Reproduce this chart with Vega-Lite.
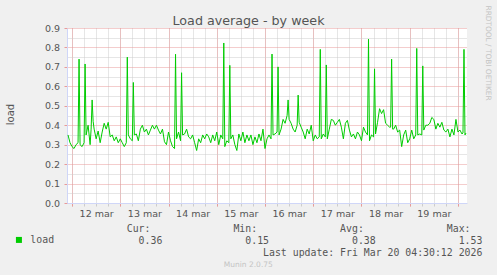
{
  "$schema": "https://vega.github.io/schema/vega-lite/v6.json",
  "width": 400,
  "height": 175,
  "autosize": "none",
  "padding": {"left": 67, "top": 28, "right": 30, "bottom": 72},
  "background": "#f0f0f0",
  "config": {"view": {"fill": "#ffffff", "stroke": null}, "font": "DejaVu Sans"},
  "data": {"values": [
    {"t": "2026-03-11T22:00", "v": 0.35}, {"t": "2026-03-11T23:00", "v": 0.31},
    {"t": "2026-03-12T00:00", "v": 0.29}, {"t": "2026-03-12T01:00", "v": 0.28}, {"t": "2026-03-12T02:00", "v": 0.30}, {"t": "2026-03-12T03:00", "v": 0.31}, {"t": "2026-03-12T03:30", "v": 0.74}, {"t": "2026-03-12T04:00", "v": 0.30}, {"t": "2026-03-12T05:00", "v": 0.29}, {"t": "2026-03-12T06:00", "v": 0.31}, {"t": "2026-03-12T06:30", "v": 0.715}, {"t": "2026-03-12T07:00", "v": 0.35}, {"t": "2026-03-12T08:00", "v": 0.40}, {"t": "2026-03-12T09:00", "v": 0.30}, {"t": "2026-03-12T09:30", "v": 0.38}, {"t": "2026-03-12T10:00", "v": 0.53}, {"t": "2026-03-12T10:30", "v": 0.42}, {"t": "2026-03-12T11:00", "v": 0.38}, {"t": "2026-03-12T12:00", "v": 0.33}, {"t": "2026-03-12T13:00", "v": 0.37}, {"t": "2026-03-12T14:00", "v": 0.31}, {"t": "2026-03-12T15:00", "v": 0.365}, {"t": "2026-03-12T16:00", "v": 0.41}, {"t": "2026-03-12T17:00", "v": 0.38}, {"t": "2026-03-12T18:00", "v": 0.415}, {"t": "2026-03-12T19:00", "v": 0.34}, {"t": "2026-03-12T20:00", "v": 0.35}, {"t": "2026-03-12T21:00", "v": 0.32}, {"t": "2026-03-12T22:00", "v": 0.34}, {"t": "2026-03-12T23:00", "v": 0.31},
    {"t": "2026-03-13T00:00", "v": 0.33}, {"t": "2026-03-13T01:00", "v": 0.31}, {"t": "2026-03-13T02:00", "v": 0.29}, {"t": "2026-03-13T03:00", "v": 0.31}, {"t": "2026-03-13T03:30", "v": 0.75}, {"t": "2026-03-13T04:00", "v": 0.35}, {"t": "2026-03-13T05:00", "v": 0.33}, {"t": "2026-03-13T06:00", "v": 0.32}, {"t": "2026-03-13T06:30", "v": 0.62}, {"t": "2026-03-13T07:00", "v": 0.35}, {"t": "2026-03-13T08:00", "v": 0.355}, {"t": "2026-03-13T09:00", "v": 0.32}, {"t": "2026-03-13T10:00", "v": 0.38}, {"t": "2026-03-13T11:00", "v": 0.40}, {"t": "2026-03-13T12:00", "v": 0.365}, {"t": "2026-03-13T13:00", "v": 0.38}, {"t": "2026-03-13T14:00", "v": 0.35}, {"t": "2026-03-13T15:00", "v": 0.375}, {"t": "2026-03-13T16:00", "v": 0.40}, {"t": "2026-03-13T17:00", "v": 0.38}, {"t": "2026-03-13T18:00", "v": 0.40}, {"t": "2026-03-13T19:00", "v": 0.375}, {"t": "2026-03-13T20:00", "v": 0.355}, {"t": "2026-03-13T21:00", "v": 0.38}, {"t": "2026-03-13T22:00", "v": 0.315}, {"t": "2026-03-13T23:00", "v": 0.30},
    {"t": "2026-03-14T00:00", "v": 0.365}, {"t": "2026-03-14T01:00", "v": 0.32}, {"t": "2026-03-14T02:00", "v": 0.29}, {"t": "2026-03-14T03:00", "v": 0.28}, {"t": "2026-03-14T03:30", "v": 0.765}, {"t": "2026-03-14T04:00", "v": 0.33}, {"t": "2026-03-14T05:00", "v": 0.365}, {"t": "2026-03-14T06:00", "v": 0.32}, {"t": "2026-03-14T06:30", "v": 0.67}, {"t": "2026-03-14T07:00", "v": 0.35}, {"t": "2026-03-14T08:00", "v": 0.355}, {"t": "2026-03-14T09:00", "v": 0.38}, {"t": "2026-03-14T10:00", "v": 0.34}, {"t": "2026-03-14T11:00", "v": 0.33}, {"t": "2026-03-14T12:00", "v": 0.35}, {"t": "2026-03-14T13:00", "v": 0.31}, {"t": "2026-03-14T14:00", "v": 0.27}, {"t": "2026-03-14T15:00", "v": 0.33}, {"t": "2026-03-14T16:00", "v": 0.31}, {"t": "2026-03-14T17:00", "v": 0.35}, {"t": "2026-03-14T18:00", "v": 0.33}, {"t": "2026-03-14T19:00", "v": 0.355}, {"t": "2026-03-14T20:00", "v": 0.34}, {"t": "2026-03-14T21:00", "v": 0.31}, {"t": "2026-03-14T22:00", "v": 0.35}, {"t": "2026-03-14T23:00", "v": 0.32},
    {"t": "2026-03-15T00:00", "v": 0.365}, {"t": "2026-03-15T01:00", "v": 0.30}, {"t": "2026-03-15T02:00", "v": 0.35}, {"t": "2026-03-15T03:00", "v": 0.33}, {"t": "2026-03-15T03:30", "v": 0.823}, {"t": "2026-03-15T04:00", "v": 0.29}, {"t": "2026-03-15T05:00", "v": 0.32}, {"t": "2026-03-15T06:00", "v": 0.31}, {"t": "2026-03-15T06:30", "v": 0.708}, {"t": "2026-03-15T07:00", "v": 0.33}, {"t": "2026-03-15T08:00", "v": 0.35}, {"t": "2026-03-15T09:00", "v": 0.30}, {"t": "2026-03-15T10:00", "v": 0.27}, {"t": "2026-03-15T11:00", "v": 0.355}, {"t": "2026-03-15T12:00", "v": 0.32}, {"t": "2026-03-15T13:00", "v": 0.365}, {"t": "2026-03-15T14:00", "v": 0.31}, {"t": "2026-03-15T15:00", "v": 0.35}, {"t": "2026-03-15T16:00", "v": 0.32}, {"t": "2026-03-15T17:00", "v": 0.35}, {"t": "2026-03-15T18:00", "v": 0.30}, {"t": "2026-03-15T19:00", "v": 0.34}, {"t": "2026-03-15T20:00", "v": 0.31}, {"t": "2026-03-15T21:00", "v": 0.355}, {"t": "2026-03-15T22:00", "v": 0.32}, {"t": "2026-03-15T23:00", "v": 0.38},
    {"t": "2026-03-16T00:00", "v": 0.28}, {"t": "2026-03-16T01:00", "v": 0.33}, {"t": "2026-03-16T02:00", "v": 0.35}, {"t": "2026-03-16T03:00", "v": 0.33}, {"t": "2026-03-16T03:30", "v": 0.766}, {"t": "2026-03-16T04:00", "v": 0.35}, {"t": "2026-03-16T05:00", "v": 0.355}, {"t": "2026-03-16T06:00", "v": 0.365}, {"t": "2026-03-16T06:30", "v": 0.70}, {"t": "2026-03-16T07:00", "v": 0.35}, {"t": "2026-03-16T08:00", "v": 0.38}, {"t": "2026-03-16T09:00", "v": 0.43}, {"t": "2026-03-16T10:00", "v": 0.41}, {"t": "2026-03-16T11:00", "v": 0.45}, {"t": "2026-03-16T11:30", "v": 0.53}, {"t": "2026-03-16T12:00", "v": 0.43}, {"t": "2026-03-16T13:00", "v": 0.41}, {"t": "2026-03-16T14:00", "v": 0.38}, {"t": "2026-03-16T15:00", "v": 0.365}, {"t": "2026-03-16T16:00", "v": 0.40}, {"t": "2026-03-16T16:30", "v": 0.555}, {"t": "2026-03-16T17:00", "v": 0.415}, {"t": "2026-03-16T18:00", "v": 0.39}, {"t": "2026-03-16T19:00", "v": 0.365}, {"t": "2026-03-16T20:00", "v": 0.33}, {"t": "2026-03-16T21:00", "v": 0.38}, {"t": "2026-03-16T22:00", "v": 0.355}, {"t": "2026-03-16T23:00", "v": 0.40},
    {"t": "2026-03-17T00:00", "v": 0.32}, {"t": "2026-03-17T01:00", "v": 0.35}, {"t": "2026-03-17T02:00", "v": 0.33}, {"t": "2026-03-17T03:00", "v": 0.34}, {"t": "2026-03-17T03:30", "v": 0.79}, {"t": "2026-03-17T04:00", "v": 0.33}, {"t": "2026-03-17T05:00", "v": 0.355}, {"t": "2026-03-17T06:00", "v": 0.34}, {"t": "2026-03-17T06:30", "v": 0.71}, {"t": "2026-03-17T07:00", "v": 0.33}, {"t": "2026-03-17T08:00", "v": 0.38}, {"t": "2026-03-17T09:00", "v": 0.43}, {"t": "2026-03-17T10:00", "v": 0.425}, {"t": "2026-03-17T11:00", "v": 0.40}, {"t": "2026-03-17T12:00", "v": 0.415}, {"t": "2026-03-17T13:00", "v": 0.43}, {"t": "2026-03-17T14:00", "v": 0.39}, {"t": "2026-03-17T15:00", "v": 0.33}, {"t": "2026-03-17T16:00", "v": 0.41}, {"t": "2026-03-17T17:00", "v": 0.425}, {"t": "2026-03-17T18:00", "v": 0.375}, {"t": "2026-03-17T19:00", "v": 0.34}, {"t": "2026-03-17T20:00", "v": 0.355}, {"t": "2026-03-17T21:00", "v": 0.33}, {"t": "2026-03-17T22:00", "v": 0.365}, {"t": "2026-03-17T23:00", "v": 0.35},
    {"t": "2026-03-18T00:00", "v": 0.32}, {"t": "2026-03-18T01:00", "v": 0.39}, {"t": "2026-03-18T02:00", "v": 0.365}, {"t": "2026-03-18T03:00", "v": 0.35}, {"t": "2026-03-18T03:30", "v": 0.843}, {"t": "2026-03-18T04:00", "v": 0.32}, {"t": "2026-03-18T05:00", "v": 0.35}, {"t": "2026-03-18T06:00", "v": 0.34}, {"t": "2026-03-18T06:30", "v": 0.69}, {"t": "2026-03-18T07:00", "v": 0.355}, {"t": "2026-03-18T08:00", "v": 0.415}, {"t": "2026-03-18T09:00", "v": 0.485}, {"t": "2026-03-18T10:00", "v": 0.46}, {"t": "2026-03-18T11:00", "v": 0.48}, {"t": "2026-03-18T12:00", "v": 0.41}, {"t": "2026-03-18T13:00", "v": 0.40}, {"t": "2026-03-18T14:00", "v": 0.39}, {"t": "2026-03-18T14:30", "v": 0.39}, {"t": "2026-03-18T15:00", "v": 0.74}, {"t": "2026-03-18T15:30", "v": 0.38}, {"t": "2026-03-18T16:00", "v": 0.38}, {"t": "2026-03-18T17:00", "v": 0.40}, {"t": "2026-03-18T18:00", "v": 0.365}, {"t": "2026-03-18T19:00", "v": 0.375}, {"t": "2026-03-18T20:00", "v": 0.29}, {"t": "2026-03-18T21:00", "v": 0.35}, {"t": "2026-03-18T22:00", "v": 0.375}, {"t": "2026-03-18T23:00", "v": 0.31},
    {"t": "2026-03-19T00:00", "v": 0.33}, {"t": "2026-03-19T01:00", "v": 0.375}, {"t": "2026-03-19T02:00", "v": 0.33}, {"t": "2026-03-19T03:00", "v": 0.35}, {"t": "2026-03-19T03:30", "v": 0.795}, {"t": "2026-03-19T04:00", "v": 0.35}, {"t": "2026-03-19T05:00", "v": 0.355}, {"t": "2026-03-19T06:00", "v": 0.35}, {"t": "2026-03-19T06:30", "v": 0.705}, {"t": "2026-03-19T07:00", "v": 0.375}, {"t": "2026-03-19T08:00", "v": 0.40}, {"t": "2026-03-19T09:00", "v": 0.40}, {"t": "2026-03-19T10:00", "v": 0.41}, {"t": "2026-03-19T11:00", "v": 0.44}, {"t": "2026-03-19T12:00", "v": 0.43}, {"t": "2026-03-19T13:00", "v": 0.38}, {"t": "2026-03-19T14:00", "v": 0.41}, {"t": "2026-03-19T15:00", "v": 0.39}, {"t": "2026-03-19T16:00", "v": 0.415}, {"t": "2026-03-19T17:00", "v": 0.375}, {"t": "2026-03-19T18:00", "v": 0.365}, {"t": "2026-03-19T19:00", "v": 0.38}, {"t": "2026-03-19T20:00", "v": 0.34}, {"t": "2026-03-19T21:00", "v": 0.38}, {"t": "2026-03-19T22:00", "v": 0.35}, {"t": "2026-03-19T23:00", "v": 0.43},
    {"t": "2026-03-20T00:00", "v": 0.365}, {"t": "2026-03-20T01:00", "v": 0.375}, {"t": "2026-03-20T02:00", "v": 0.355}, {"t": "2026-03-20T02:30", "v": 0.36}, {"t": "2026-03-20T03:00", "v": 0.79}, {"t": "2026-03-20T03:30", "v": 0.35}, {"t": "2026-03-20T04:00", "v": 0.36}
  ]},
  "layer": [
    {
      "mark": {"type": "line", "opacity": 0},
      "encoding": {
        "x": {
          "field": "t", "type": "temporal",
          "scale": {"domain": [{"year": 2026, "month": 3, "date": 11, "hours": 21, "minutes": 30}, {"year": 2026, "month": 3, "date": 20, "hours": 4, "minutes": 30}], "nice": false},
          "axis": {"orient": "bottom", "tickCount": 34, "grid": true, "gridColor": "#cccccc", "gridDash": [1, 1], "gridOpacity": 1,
            "ticks": true, "tickSize": 3, "tickColor": "#cccccc", "labels": false, "domain": false,
            "title": "Munin 2.0.75", "titleFont": "DejaVu Sans", "titleFontSize": 7.5, "titleFontWeight": "normal", "titleColor": "#c4c4c4",
            "titleX": 180.8, "titleY": 63.5, "titleAlign": "center", "titleBaseline": "alphabetic"}
        },
        "y": {
          "field": "v", "type": "quantitative",
          "scale": {"domain": [0, 0.9], "nice": false},
          "axis": {"orient": "left", "values": [0.05, 0.15, 0.25, 0.35, 0.45, 0.55, 0.65, 0.75, 0.85], "grid": true, "gridColor": "#cccccc", "gridDash": [1, 1], "gridOpacity": 1,
            "ticks": false, "labels": false, "domain": false, "title": null}
        }
      }
    },
    {
      "mark": {"type": "line", "opacity": 0},
      "encoding": {
        "x": {
          "field": "t", "type": "temporal",
          "scale": {"domain": [{"year": 2026, "month": 3, "date": 11, "hours": 21, "minutes": 30}, {"year": 2026, "month": 3, "date": 20, "hours": 4, "minutes": 30}], "nice": false},
          "axis": {"orient": "bottom",
            "values": [{"year": 2026, "month": 3, "date": 12}, {"year": 2026, "month": 3, "date": 13}, {"year": 2026, "month": 3, "date": 14}, {"year": 2026, "month": 3, "date": 15}, {"year": 2026, "month": 3, "date": 16}, {"year": 2026, "month": 3, "date": 17}, {"year": 2026, "month": 3, "date": 18}, {"year": 2026, "month": 3, "date": 19}, {"year": 2026, "month": 3, "date": 20}],
            "grid": true, "gridColor": "#e89a9a", "gridDash": [1, 1], "gridOpacity": 1,
            "ticks": true, "tickSize": 3, "tickColor": "#e89a9a", "labels": false, "domain": false, "title": null}
        },
        "y": {
          "field": "v", "type": "quantitative",
          "scale": {"domain": [0, 0.9], "nice": false},
          "axis": {"orient": "left", "values": [0, 0.1, 0.2, 0.3, 0.4, 0.5, 0.6, 0.7, 0.8, 0.9], "format": ".1f",
            "grid": true, "gridColor": "#e89a9a", "gridDash": [1, 1], "gridOpacity": 1,
            "ticks": true, "tickSize": 3, "tickColor": "#e89a9a",
            "domain": true, "domainColor": "#cfd6f8",
            "labelFont": "DejaVu Sans", "labelFontSize": 9.5, "labelColor": "#555555", "labelPadding": 4.5,
            "title": "load", "titleFont": "DejaVu Sans", "titleFontSize": 10, "titleFontWeight": "normal", "titleColor": "#555555",
            "titleAngle": -90, "titleX": -53.5, "titleY": 86, "titleAlign": "center", "titleBaseline": "alphabetic"}
        }
      }
    },
    {
      "mark": {"type": "line", "color": "#00cc00", "strokeWidth": 1, "interpolate": "linear"},
      "encoding": {
        "x": {
          "field": "t", "type": "temporal",
          "scale": {"domain": [{"year": 2026, "month": 3, "date": 11, "hours": 21, "minutes": 30}, {"year": 2026, "month": 3, "date": 20, "hours": 4, "minutes": 30}], "nice": false},
          "axis": {
            "orient": "bottom",
            "values": [{"year": 2026, "month": 3, "date": 12, "hours": 12}, {"year": 2026, "month": 3, "date": 13, "hours": 12}, {"year": 2026, "month": 3, "date": 14, "hours": 12}, {"year": 2026, "month": 3, "date": 15, "hours": 12}, {"year": 2026, "month": 3, "date": 16, "hours": 12}, {"year": 2026, "month": 3, "date": 17, "hours": 12}, {"year": 2026, "month": 3, "date": 18, "hours": 12}, {"year": 2026, "month": 3, "date": 19, "hours": 12}],
            "format": "%d mar",
            "grid": false, "ticks": false, "tickSize": 0,
            "domain": true, "domainColor": "#cfd6f8",
            "labelFont": "DejaVu Sans", "labelFontSize": 9.5, "labelColor": "#555555", "labelPadding": 5,
            "title": [
              "\u200b\u00a0\u00a0\u00a0\u00a0\u00a0\u00a0\u00a0\u00a0\u00a0\u00a0Cur:\u00a0\u00a0\u00a0\u00a0\u00a0\u00a0\u00a0\u00a0\u00a0\u00a0\u00a0\u00a0\u00a0\u00a0Min:\u00a0\u00a0\u00a0\u00a0\u00a0\u00a0\u00a0\u00a0\u00a0\u00a0\u00a0\u00a0\u00a0\u00a0Avg:\u00a0\u00a0\u00a0\u00a0\u00a0\u00a0\u00a0\u00a0\u00a0\u00a0\u00a0\u00a0\u00a0\u00a0Max:",
              "\u200b\u00a0\u00a0\u00a0\u00a0\u00a0\u00a0\u00a0\u00a0\u00a0\u00a0\u00a0\u00a00.36\u00a0\u00a0\u00a0\u00a0\u00a0\u00a0\u00a0\u00a0\u00a0\u00a0\u00a0\u00a0\u00a0\u00a00.15\u00a0\u00a0\u00a0\u00a0\u00a0\u00a0\u00a0\u00a0\u00a0\u00a0\u00a0\u00a0\u00a0\u00a00.38\u00a0\u00a0\u00a0\u00a0\u00a0\u00a0\u00a0\u00a0\u00a0\u00a0\u00a0\u00a0\u00a0\u00a01.53",
              "\u200b\u00a0\u00a0\u00a0\u00a0\u00a0\u00a0\u00a0\u00a0\u00a0\u00a0\u00a0\u00a0\u00a0\u00a0\u00a0\u00a0\u00a0\u00a0\u00a0\u00a0\u00a0\u00a0\u00a0\u00a0\u00a0\u00a0\u00a0\u00a0\u00a0\u00a0\u00a0\u00a0\u00a0Last update: Fri Mar 20 04:30:12 2026"
            ],
            "titleFont": "DejaVu Sans Mono", "titleFontSize": 9.85, "titleFontWeight": "normal", "titleColor": "#555555",
            "titleAlign": "left", "titleAnchor": "start", "titleX": 0, "titleY": 28.7, "titleBaseline": "alphabetic", "titleLineHeight": 11.8
          }
        },
        "y": {
          "field": "v", "type": "quantitative",
          "scale": {"domain": [0, 0.9], "nice": false},
          "axis": {"orient": "right", "labels": false, "ticks": false, "domain": false, "grid": false,
            "title": "RRDTOOL / TOBI OETIKER", "titleFont": "DejaVu Sans", "titleFontSize": 7.4, "titleFontWeight": "normal", "titleColor": "#c4c4c4",
            "titleAngle": 90, "titleX": 18, "titleY": -23, "titleAlign": "left", "titleBaseline": "alphabetic"}
        },
        "color": {
          "datum": "load", "type": "nominal",
          "scale": {"range": ["#00cc00"]},
          "legend": {
            "orient": "none", "legendX": -53, "legendY": 207, "title": null, "padding": 0, "offset": 0,
            "symbolType": "square", "symbolSize": 36, "symbolFillColor": "#00cc00", "symbolStrokeColor": "#00cc00", "symbolStrokeWidth": 0,
            "labelFont": "DejaVu Sans Mono", "labelFontSize": 9.85, "labelColor": "#555555", "labelOffset": 6.5
          }
        }
      }
    },
    {
      "mark": {"type": "line", "opacity": 0},
      "encoding": {
        "x": {
          "field": "t", "type": "temporal",
          "scale": {"domain": [{"year": 2026, "month": 3, "date": 11, "hours": 21, "minutes": 30}, {"year": 2026, "month": 3, "date": 20, "hours": 4, "minutes": 30}], "nice": false},
          "axis": {"orient": "top", "labels": false, "ticks": false, "domain": false, "grid": false,
            "title": "Load average - by week", "titleFont": "DejaVu Sans", "titleFontSize": 12.7, "titleFontWeight": "normal", "titleColor": "#555555",
            "titleX": 181, "titleY": -3.7, "titleAlign": "center", "titleBaseline": "alphabetic"}
        },
        "y": {
          "field": "v", "type": "quantitative",
          "scale": {"domain": [0, 0.9], "nice": false},
          "axis": null
        }
      }
    }
  ],
  "resolve": {"axis": {"x": "independent", "y": "independent"}}
}
